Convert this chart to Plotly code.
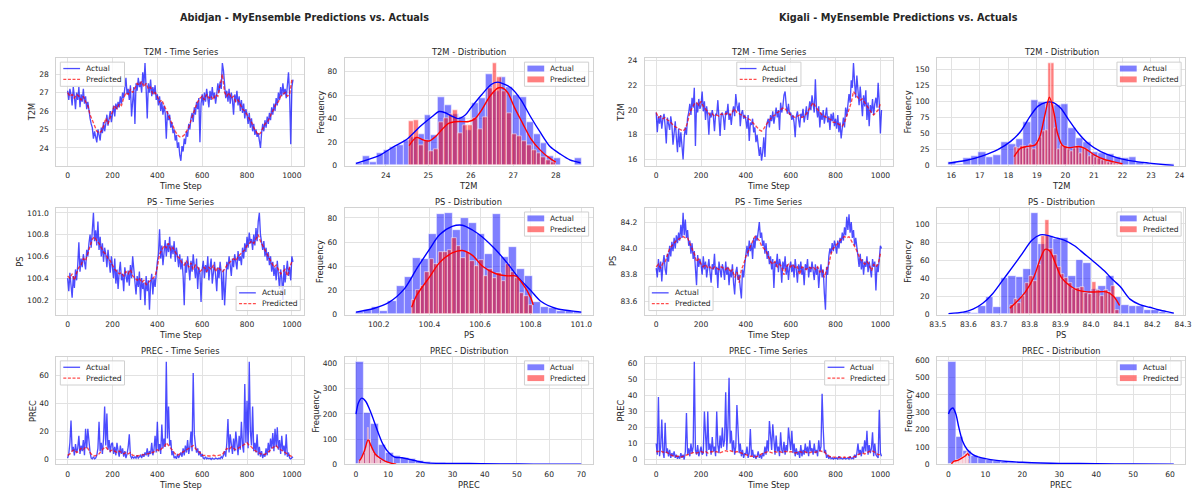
import numpy as np
import plotly.graph_objects as go

# ====================== DATA ======================
ACT_STEP = 5    # actual series read every 5 time steps
PRED_STEP = 10  # predicted series read every 10 time steps

# ---------- Abidjan ----------
abj_t2m_act = [
    27.1, 26.6, 27.2, 26.9, 26.3, 27.3, 26.8, 26.1, 27.0, 26.6, 27.3, 26.2, 26.9, 26.5, 27.2, 26.4, 26.8, 26.1, 26.5, 25.9,
    25.6, 25.3, 25.1, 24.5, 24.9, 24.6, 24.3, 25.0, 24.7, 24.4, 25.1, 24.8, 25.4, 24.9, 25.3, 25.8, 25.2, 25.6, 26.0, 25.4,
    25.9, 26.3, 25.7, 26.4, 26.1, 26.5, 26.2, 26.8, 26.4, 27.0, 26.7, 27.3, 27.8, 26.9, 27.2, 26.6, 27.4, 25.7, 26.9, 27.3,
    25.3, 27.5, 27.1, 27.8, 27.3, 27.6, 27.0, 28.1, 27.4, 28.6, 27.2, 25.6, 27.5, 27.0, 27.7, 26.8, 27.3, 26.9, 27.4, 26.6,
    26.9, 26.3, 26.8, 26.0, 26.5, 25.8, 26.3, 25.9, 24.5, 26.0, 25.5, 25.8, 25.1, 25.4, 24.8, 25.0, 24.4, 24.7, 24.0, 24.3,
    23.6, 23.3, 24.1, 23.8, 24.5, 24.2, 24.9, 24.6, 25.3, 25.0, 25.6, 25.9, 25.4, 26.2, 25.8, 26.5, 26.1, 26.7, 24.3, 26.4,
    26.9, 26.3, 27.0, 26.5, 27.2, 26.8, 26.2, 27.1, 26.6, 27.3, 26.7, 27.0, 26.4, 26.9, 27.5, 27.0, 27.6, 27.2, 28.6, 28.2,
    27.3, 26.7, 27.1, 26.5, 27.2, 26.4, 27.0, 26.6, 25.8, 26.9, 26.5, 27.1, 26.3, 26.8, 26.0, 26.6, 25.9, 26.4, 25.6, 26.1,
    25.8, 25.3, 25.9, 25.1, 25.6, 24.9, 25.3, 24.7, 25.0, 24.6, 24.8, 24.3, 24.0, 24.8, 25.3, 24.9, 25.5, 25.1, 25.7, 25.3,
    25.9, 25.5, 26.2, 25.8, 26.4, 26.0, 26.7, 26.3, 27.0, 26.6, 27.3, 26.8, 27.5, 26.9, 27.2, 26.7, 27.6, 28.1, 26.9, 24.2, 27.3, 27.7]
abj_t2m_pred = [
    27.0, 26.8, 26.9, 26.7, 26.9, 26.8, 26.6, 26.8, 26.5, 26.3,
    25.8, 25.5, 25.1, 24.9, 24.8, 24.9, 25.2, 25.6, 25.3, 25.7,
    26.0, 26.3, 26.1, 26.4, 26.3, 26.7, 27.0, 26.9, 27.2, 27.0,
    27.3, 27.5, 27.4, 27.6, 27.3, 27.5, 27.2, 27.3, 26.9, 27.0,
    26.8, 26.5, 26.6, 26.3, 26.0, 25.8, 25.5, 25.2, 24.9, 24.7,
    24.6, 24.6, 24.7, 24.9, 25.1, 25.5, 25.9, 26.2, 26.5, 26.7,
    26.8, 26.6, 26.9, 26.7, 26.8, 26.6, 26.9, 26.8, 27.4, 28.0,
    27.0, 26.8, 27.0, 26.7, 26.8, 26.5, 26.6, 26.3, 26.1, 26.0,
    25.8, 25.6, 25.4, 25.1, 24.9, 24.7, 24.8, 25.1, 25.3, 25.4,
    25.6, 25.9, 26.1, 26.4, 26.5, 26.8, 26.9, 27.0, 26.8, 26.9, 27.7]

abj_ps_act = [
    100.40, 100.28, 100.45, 100.35, 100.22, 100.42, 100.31, 100.48, 100.38, 100.52, 100.73, 100.46, 100.58, 100.50, 100.62, 100.55, 100.48, 100.66, 100.60, 100.72,
    100.80, 100.68, 100.88, 101.00, 100.74, 100.84, 100.70, 100.92, 100.66, 100.78, 100.60, 100.72, 100.55, 100.68, 100.62, 100.50, 100.66, 100.57, 100.45, 100.60,
    100.52, 100.40, 100.58, 100.35, 100.48, 100.30, 100.46, 100.55, 100.38, 100.44, 100.28, 100.50, 100.42, 100.36, 100.47, 100.33, 100.52, 100.40, 100.60, 100.45,
    100.38, 100.25, 100.42, 100.32, 100.46, 100.20, 100.40, 100.30, 100.36, 100.15, 100.42, 100.28, 100.38, 100.11, 100.35, 100.44, 100.25, 100.40, 100.32, 100.48,
    100.55, 100.62, 100.85, 100.58, 100.70, 100.52, 100.66, 100.75, 100.60, 100.72, 100.64, 100.78, 100.58, 100.70, 100.62, 100.74, 100.55, 100.68, 100.60, 100.50,
    100.62, 100.48, 100.58, 100.42, 100.15, 100.55, 100.45, 100.60, 100.50, 100.38, 100.56, 100.46, 100.62, 100.52, 100.40, 100.58, 100.30, 100.50, 100.44, 100.18,
    100.48, 100.56, 100.40, 100.52, 100.45, 100.60, 100.38, 100.50, 100.58, 100.35, 100.48, 100.55, 100.42, 100.28, 100.50, 100.40, 100.55, 100.45, 100.20, 100.48,
    100.15, 100.45, 100.55, 100.48, 100.60, 100.52, 100.42, 100.58, 100.50, 100.62, 100.55, 100.48, 100.65, 100.56, 100.60, 100.52, 100.68, 100.58, 100.72, 100.64,
    100.78, 100.68, 100.82, 100.72, 100.76, 100.66, 100.80, 100.70, 100.86, 100.74, 100.92, 101.00, 100.80, 100.70, 100.66, 100.74, 100.60, 100.68, 100.56, 100.64,
    100.52, 100.60, 100.46, 100.55, 100.42, 100.50, 100.38, 100.56, 100.45, 100.30, 100.48, 100.40, 100.20, 100.52, 100.36, 100.46, 100.56, 100.42, 100.50, 100.38, 100.60, 100.55]
abj_ps_pred = [
    100.42, 100.40, 100.44, 100.38, 100.45, 100.50, 100.52, 100.58, 100.56, 100.62,
    100.70, 100.76, 100.78, 100.74, 100.72, 100.68, 100.64, 100.62, 100.58, 100.56,
    100.52, 100.48, 100.46, 100.44, 100.45, 100.42, 100.46, 100.44, 100.48, 100.42,
    100.40, 100.38, 100.40, 100.36, 100.38, 100.34, 100.36, 100.38, 100.40, 100.42,
    100.50, 100.62, 100.66, 100.70, 100.68, 100.72, 100.66, 100.68, 100.64, 100.60,
    100.58, 100.54, 100.52, 100.56, 100.50, 100.54, 100.48, 100.52, 100.50, 100.46,
    100.48, 100.50, 100.46, 100.50, 100.48, 100.52, 100.46, 100.50, 100.48, 100.46,
    100.48, 100.52, 100.54, 100.56, 100.58, 100.56, 100.60, 100.62, 100.64, 100.66,
    100.70, 100.72, 100.74, 100.72, 100.76, 100.80, 100.74, 100.70, 100.66, 100.62,
    100.58, 100.54, 100.50, 100.52, 100.48, 100.44, 100.46, 100.48, 100.42, 100.50, 100.55]

abj_prec_act = [
    1, 4, 12, 28, 6, 9, 3, 11, 5, 8, 17, 4, 10, 6, 14, 3, 22, 8, 22, 12,
    5, 1, 0.5, 2, 0.5, 1, 3, 8, 27, 6, 12, 4, 15, 38, 10, 33, 7, 14, 5, 11,
    12, 4, 9, 3, 12, 6, 2, 10, 4, 8, 2, 6, 1, 4, 9, 18, 3, 1, 2, 1,
    2, 1, 3, 1, 2, 3, 1, 4, 2, 5, 3, 8, 2, 6, 4, 12, 3, 7, 17, 5,
    27, 6, 11, 4, 25, 8, 15, 9, 70, 15, 38, 10, 14, 3, 6, 1, 2, 0.5, 4, 1,
    3, 5, 2, 8, 3, 10, 5, 14, 4, 9, 20, 6, 62, 18, 10, 5, 8, 3, 6, 2,
    4, 1, 0.5, 2, 0.5, 1, 0.5, 1, 0.0, 1, 0.5, 0.3, 1, 0.5, 0.3, 1, 0.5, 2, 1, 3,
    6, 2, 12, 29, 5, 18, 8, 4, 15, 6, 20, 9, 3, 17, 7, 27, 10, 5, 54, 12,
    42, 8, 70, 20, 10, 38, 6, 12, 5, 18, 3, 9, 2, 6, 1, 4, 2, 8, 3, 12,
    5, 15, 8, 19, 6, 22, 9, 23, 7, 14, 4, 17, 6, 10, 3, 18, 2, 5, 1, 0.5, 1, 2]
abj_prec_pred = [
    3, 4, 6, 7, 5, 6, 8, 7, 9, 8,
    5, 3, 2.5, 3, 4, 6, 8, 9, 7, 6,
    7, 6, 5, 6, 5, 4, 5, 4, 5, 3,
    3, 2.5, 3, 3, 3.5, 4, 4, 5, 5, 6,
    7, 6, 8, 9, 12, 10, 8, 6, 4, 3,
    4, 5, 6, 7, 8, 9, 10, 8, 6, 5,
    3, 3, 2.5, 2.5, 2.5, 3, 2.5, 3, 3, 3.5,
    6, 8, 7, 9, 8, 7, 8, 9, 10, 11,
    12, 10, 9, 7, 6, 5, 4, 4, 3.5, 5,
    6, 8, 9, 10, 8, 7, 6, 5, 4, 3, 2]

# ---------- Kigali ----------
kgl_t2m_act = [
    19.8, 18.2, 19.5, 18.9, 19.6, 18.5, 19.3, 19.7, 18.7, 17.3, 19.4, 19.0, 18.4, 19.5, 18.8, 17.2, 18.6, 19.1, 17.8, 16.6,
    18.5, 17.0, 18.2, 16.8, 16.0, 17.8, 18.6, 18.0, 19.4, 19.8, 20.5, 19.6, 21.0, 20.2, 21.8, 17.1, 20.6, 19.8, 20.9, 20.1,
    20.4, 21.5, 19.9, 20.7, 19.2, 20.3, 19.6, 18.0, 19.8, 19.4, 20.0, 19.5, 18.3, 19.7, 19.6, 20.8, 19.3, 17.9, 19.6, 19.8,
    19.4, 18.4, 19.9, 19.6, 20.5, 19.2, 19.7, 18.8, 19.8, 20.3, 19.5, 21.3, 20.4, 19.9, 20.6, 18.7, 19.7, 20.0, 19.3, 19.6,
    19.2, 18.5, 19.6, 17.5, 19.0, 18.8, 19.3, 18.2, 18.6, 17.4, 18.0, 17.2, 16.3, 17.0, 15.9, 16.6, 17.8, 16.2, 18.4, 19.0,
    19.3, 18.6, 19.6, 19.1, 19.9, 18.9, 19.5, 20.2, 19.4, 20.0, 18.4, 20.6, 19.8, 20.3, 21.2, 21.5, 20.4, 19.7, 20.5, 19.6,
    19.8, 19.2, 19.6, 19.0, 17.8, 19.5, 19.9, 19.3, 18.6, 19.7, 19.4, 20.1, 19.0, 19.6, 20.3, 19.2, 19.8, 20.7, 20.0, 21.2,
    20.5, 19.8, 22.5, 20.1, 19.4, 20.3, 18.6, 19.8, 19.2, 20.0, 18.9, 19.6, 20.2, 19.0, 19.5, 18.4, 19.7, 19.1, 19.8, 18.7,
    19.3, 18.5, 19.6, 18.2, 19.0, 17.7, 18.8, 19.4, 18.6, 20.2, 19.5, 20.8, 21.3, 20.6, 22.4, 21.8, 23.8, 22.2, 21.0, 22.8,
    21.5, 20.4, 21.9, 20.7, 19.5, 21.2, 20.3, 21.6, 19.2, 20.6, 18.7, 20.4, 19.8, 20.9, 19.6, 20.5, 21.0, 20.2, 22.2, 20.6, 18.1, 20.0]
kgl_t2m_pred = [
    19.8, 19.4, 19.5, 19.3, 19.4, 19.2, 19.1, 18.9, 18.7, 18.6,
    18.5, 18.4, 18.3, 18.5, 19.0, 19.8, 20.2, 20.5, 20.6, 20.4,
    20.7, 20.3, 20.1, 19.8, 19.6, 19.7, 19.5, 19.6, 19.5, 19.7,
    19.6, 19.7, 19.8, 19.6, 19.9, 20.1, 19.8, 19.7, 19.6, 19.5,
    19.4, 19.3, 19.2, 19.0, 18.8, 18.6, 18.4, 18.3, 18.5, 18.8,
    19.1, 19.3, 19.5, 19.6, 19.8, 19.9, 20.1, 20.2, 20.0, 19.8,
    19.6, 19.5, 19.4, 19.5, 19.6, 19.4, 19.5, 19.7, 20.0, 20.4,
    20.6, 20.3, 20.0, 19.8, 19.6, 19.5, 19.4, 19.3, 19.2, 19.0,
    19.0, 18.9, 18.8, 18.7, 19.0, 19.5, 20.0, 20.6, 21.5, 21.2,
    21.0, 20.8, 20.9, 20.6, 20.3, 20.0, 19.8, 19.6, 19.8, 20.0, 20.5]

kgl_ps_act = [
    83.85, 83.78, 83.92, 83.82, 83.90, 83.75, 83.88, 83.95, 83.84, 83.80, 83.96, 83.90, 84.02, 83.94, 84.05, 83.98, 84.08, 84.00, 84.10, 84.04,
    84.12, 84.06, 84.18, 84.08, 84.27, 84.10, 84.22, 84.08, 84.14, 84.02, 84.06, 83.96, 84.04, 83.92, 83.98, 83.88, 83.72, 83.95, 83.86, 83.92,
    83.88, 83.80, 83.94, 83.84, 83.90, 83.78, 83.86, 83.92, 83.82, 83.74, 83.88, 83.84, 83.96, 83.80, 83.86, 83.70, 83.90, 83.82, 83.78, 83.88,
    83.84, 83.76, 83.90, 83.80, 83.86, 83.72, 83.84, 83.78, 83.88, 83.74, 83.65, 83.82, 83.86, 83.76, 83.80, 83.70, 83.62, 83.84, 83.78, 83.88,
    83.96, 84.02, 83.94, 84.06, 83.98, 84.04, 83.92, 84.08, 84.00, 84.10, 84.06, 84.14, 84.20, 84.08, 84.12, 84.02, 84.06, 83.96, 84.04, 83.92,
    83.98, 83.88, 83.94, 83.84, 83.92, 83.70, 83.90, 83.86, 83.96, 83.82, 83.92, 83.88, 83.74, 83.90, 83.84, 83.94, 83.80, 83.88, 83.76, 83.86,
    83.90, 83.82, 83.88, 83.78, 83.92, 83.84, 83.74, 83.88, 83.82, 83.90, 83.80, 83.86, 83.72, 83.88, 83.84, 83.92, 83.78, 83.86, 83.82, 83.90,
    83.84, 83.76, 83.88, 83.80, 83.86, 83.70, 83.82, 83.88, 83.78, 83.84, 83.66, 83.535, 83.86, 83.80, 83.94, 84.00, 83.96, 84.04, 83.98, 84.06,
    84.02, 83.96, 84.06, 84.00, 84.08, 84.04, 84.12, 84.06, 84.16, 84.10, 84.24, 84.14, 84.26, 84.12, 84.20, 84.08, 84.14, 84.02, 84.08, 83.98,
    83.94, 83.86, 83.96, 83.84, 83.92, 83.80, 83.90, 83.86, 83.94, 83.82, 83.90, 83.84, 83.78, 83.92, 83.86, 83.90, 83.68, 83.88, 83.82, 83.92, 84.02, 84.00]
kgl_ps_pred = [
    83.86, 83.88, 83.85, 83.89, 83.90, 83.96, 84.00, 84.02, 84.04, 84.06,
    84.07, 84.08, 84.09, 84.08, 84.08, 84.04, 84.00, 83.96, 83.90, 83.92,
    83.88, 83.86, 83.88, 83.85, 83.86, 83.84, 83.86, 83.85, 83.84, 83.86,
    83.85, 83.84, 83.86, 83.82, 83.84, 83.78, 83.82, 83.74, 83.84, 83.88,
    83.94, 83.98, 84.02, 84.06, 84.09, 84.08, 84.06, 84.02, 84.00, 83.98,
    83.94, 83.90, 83.88, 83.90, 83.86, 83.88, 83.86, 83.80, 83.86, 83.88,
    83.86, 83.88, 83.85, 83.86, 83.80, 83.86, 83.85, 83.84, 83.86, 83.85,
    83.86, 83.84, 83.86, 83.82, 83.84, 83.78, 83.84, 83.88, 83.96, 84.00,
    84.02, 84.04, 84.06, 84.08, 84.09, 84.08, 84.09, 84.06, 84.04, 84.00,
    83.96, 83.92, 83.90, 83.88, 83.90, 83.88, 83.83, 83.88, 83.86, 83.88, 83.96]

kgl_prec_act = [
    10, 3, 39, 2, 8, 25, 5, 1, 23, 4, 7, 2, 6, 1, 4, 2, 5, 1, 3, 0.5,
    2, 0.5, 4, 1, 3, 0.0, 5, 29, 3, 7, 2, 10, 4, 8, 61, 6, 3, 9, 2, 5,
    8, 3, 4, 30, 12, 2, 30, 6, 10, 3, 14, 5, 8, 2, 30, 9, 4, 15, 7, 20,
    8, 12, 42, 6, 20, 51, 10, 18, 5, 12, 3, 8, 34, 15, 4, 10, 2, 6, 1, 4,
    3, 8, 1, 4, 19, 2, 6, 1, 3, 0.5, 2, 5, 1, 3, 0.5, 4, 2, 8, 3, 12,
    5, 24, 14, 6, 22, 10, 3, 15, 5, 8, 2, 17, 6, 4, 11, 3, 9, 5, 20, 12,
    6, 18, 4, 10, 2, 7, 3, 5, 1, 9, 2, 6, 3, 10, 4, 8, 2, 12, 5, 7,
    3, 10, 4, 6, 2, 12, 5, 8, 41, 19, 4, 6, 1, 3, 0.5, 2, 0.5, 1, 0.3, 1,
    0.5, 1, 0.3, 2, 0.5, 1, 0.3, 0.5, 1, 0.3, 0.5, 1, 0.3, 2, 0.5, 1, 0.3, 3, 1, 4,
    10, 3, 6, 2, 8, 4, 12, 5, 18, 3, 9, 4, 7, 17, 2, 10, 3, 2, 1, 31, 4, 2]
kgl_prec_pred = [
    5, 5, 5.5, 4.5, 5, 4, 3, 2.5, 2, 2,
    2, 1.5, 2, 2.5, 3, 3.5, 4, 4.5, 4, 4.5,
    5, 4.5, 5, 4, 4.5, 5, 4.5, 5, 4, 4.5,
    5, 5.5, 5, 5.5, 5, 4.5, 5, 4.5, 4, 3.5,
    3, 2.5, 2, 2, 1.5, 2, 2.5, 3.5, 4, 4.5,
    5, 4.5, 4, 5, 4.5, 5, 4.5, 5, 5, 4.5,
    5, 4.5, 4, 4.5, 5, 4.5, 5, 4.5, 4, 4.5,
    5, 4.5, 5, 5.5, 5, 5, 3, 2, 1.5, 1.5,
    1.5, 1, 1.5, 1, 1.5, 1, 1.5, 1.2, 1.5, 2,
    3, 3.5, 4, 3.5, 4.5, 5, 5.5, 5, 4, 3, 3]

# ---------- histogram counts (bin range lo, hi) ----------
abj_t2m_hist_act = [2, 8, 3, 11, 13, 16, 17, 22, 24, 27, 43, 26, 58, 51, 44, 41, 30, 53, 57, 78,
                    63, 75, 67, 60, 58, 37, 27, 19, 8, 6, 0, 0, 6]
abj_t2m_hist_act_rng = [23.3, 28.6]
abj_t2m_hist_pred = [38, 39, 17, 22, 12, 14, 37, 40, 44, 47, 28, 34, 34, 40, 31, 41, 66, 87, 75, 63,
                     45, 27, 25, 21, 17, 13, 11, 7, 5, 3]
abj_t2m_hist_pred_rng = [24.55, 28.0]
abj_ps_hist_act = [2, 4, 6, 3, 11, 24, 31, 47, 46, 67, 83, 84, 70, 80, 76, 67, 50, 83, 48, 56,
                   38, 32, 10, 6, 5, 3, 3, 2]
abj_ps_hist_act_rng = [100.11, 101.0]
abj_ps_hist_pred = [12, 20, 24, 35, 46, 42, 52, 52, 53, 63, 57, 47, 52, 44, 40, 45, 32, 38, 30, 34,
                    28, 42, 35, 30, 18, 15, 8]
abj_ps_hist_pred_rng = [100.33, 100.81]
abj_prec_hist_act = [405, 205, 160, 78, 45, 32, 25, 20, 12, 8, 5, 4, 3, 2, 2, 1, 1, 1, 1, 1,
                     0, 1, 0, 0, 0, 0, 1, 0, 0, 2]
abj_prec_hist_act_rng = [0.0, 70.0]
abj_prec_hist_pred = [12, 20, 28, 35, 45, 62, 80, 145, 95, 70, 55, 48, 40, 35, 30, 25, 20, 16, 13, 10,
                      8, 7, 5, 4, 3, 3, 2, 2, 1, 1]
abj_prec_hist_pred_rng = [1.0, 12.5]

kgl_t2m_hist_act = [5, 3, 12, 15, 21, 13, 17, 36, 33, 41, 68, 103, 100, 97, 95, 96, 58, 43, 37, 21,
                    20, 18, 13, 12, 13, 5, 3, 3, 2, 2]
kgl_t2m_hist_act_rng = [15.9, 23.8]
kgl_t2m_hist_pred = [29, 28, 30, 31, 27, 33, 25, 36, 45, 54, 55, 160, 160, 59, 25, 32, 31, 26, 23, 27,
                     30, 20, 28, 26, 15, 18, 13, 11, 9, 8, 6, 5, 4, 3, 2]
kgl_t2m_hist_pred_rng = [18.2, 22.0]
kgl_ps_hist_act = [1, 2, 3, 2, 9, 19, 8, 40, 43, 41, 50, 112, 78, 87, 83, 85, 42, 60, 57, 28,
                   31, 42, 19, 10, 9, 9, 5, 5, 3, 2]
kgl_ps_hist_act_rng = [83.535, 84.27]
kgl_ps_hist_pred = [10, 17, 13, 20, 35, 42, 37, 55, 87, 104, 72, 66, 52, 45, 40, 35, 28, 29, 30, 24,
                    23, 36, 27, 20, 27, 25, 31, 5]
kgl_ps_hist_pred_rng = [83.735, 84.093]
kgl_prec_hist_act = [590, 160, 75, 48, 38, 25, 18, 12, 9, 8, 6, 5, 4, 3, 3, 2, 2, 1, 1, 1,
                     1, 1, 0, 0, 0, 0, 0, 0, 0, 2]
kgl_prec_hist_act_rng = [0.0, 61.0]
kgl_prec_hist_pred = [5, 8, 10, 14, 16, 18, 20, 22, 21, 24, 25, 26, 28, 30, 32, 33, 35, 38, 40, 42,
                      45, 48, 52, 55, 60, 66, 72, 75, 60, 30]
kgl_prec_hist_pred_rng = [0.8, 5.6]

# ---------- KDE curves (x, count-scaled density) ----------
abj_t2m_kde_act_x = [23.3, 23.87, 24.18, 24.48, 24.8, 25.1, 25.25, 25.4, 25.56, 25.7, 25.87, 26.0, 26.25,
                     26.48, 26.64, 26.8, 26.95, 27.18, 27.4, 27.64, 27.87, 28.1, 28.33, 28.58]
abj_t2m_kde_act_y = [2, 9, 16, 22, 33, 42, 46, 45, 42, 40, 43, 49, 60, 69, 71, 69, 66, 56, 42, 28, 16, 10, 5, 2.5]
abj_t2m_kde_pred_x = [24.55, 24.72, 24.87, 25.02, 25.18, 25.33, 25.48, 25.72, 25.95, 26.1, 26.25, 26.45,
                      26.64, 26.75, 26.87, 27.02, 27.22, 27.41, 27.64, 27.83, 28.0]
abj_t2m_kde_pred_y = [17, 24, 22, 21, 25, 31, 36, 37.5, 37.5, 40, 47, 59, 66, 66, 62, 50, 36, 23, 13, 7, 3]
abj_ps_kde_act_x = [100.11, 100.18, 100.24, 100.3, 100.35, 100.4, 100.44, 100.49, 100.53, 100.57, 100.61,
                    100.66, 100.71, 100.75, 100.8, 100.84, 100.9, 100.96, 101.0]
abj_ps_kde_act_y = [2, 5, 10, 21, 38, 54, 66, 73, 74, 70, 64, 54, 42, 31, 20, 11, 5, 3, 2]
abj_ps_kde_pred_x = [100.33, 100.35, 100.4, 100.44, 100.49, 100.53, 100.57, 100.61, 100.66, 100.71,
                     100.74, 100.77, 100.8, 100.81]
abj_ps_kde_pred_y = [6, 16, 31, 43, 51, 53, 49, 40, 34, 32, 32, 25, 14, 8]
abj_prec_kde_act_x = [0.0, 0.8, 1.8, 3.0, 4.3, 5.5, 6.7, 8.4, 10.2, 12, 14.3, 16.6, 19, 21.3, 24.9, 30.7,
                      38.9, 50.6, 60, 70]
abj_prec_kde_act_y = [199, 245, 262, 250, 215, 175, 132, 79, 46, 29, 26, 20, 13, 7, 4, 4, 2.6, 1.3, 1, 1]
abj_prec_kde_pred_x = [1.0, 1.4, 2.6, 3.75, 4.7, 5.9, 7.3, 9.0, 10.8, 12.5]
abj_prec_kde_pred_y = [15, 20, 53, 97, 73, 42, 26, 13, 5, 1]

kgl_t2m_kde_act_x = [15.9, 16.5, 17.07, 17.63, 18.08, 18.42, 18.76, 19.04, 19.32, 19.55, 19.83, 20.11,
                     20.45, 20.79, 21.24, 21.8, 22.37, 22.93, 23.5, 23.8]
kgl_t2m_kde_act_y = [4, 8, 15, 25, 38, 53, 77, 93, 99, 99, 90, 72, 51, 35, 22, 12.5, 7, 4, 1.5, 0.5]
kgl_t2m_kde_pred_x = [18.2, 18.42, 18.65, 18.93, 19.1, 19.27, 19.44, 19.6, 19.72, 19.89, 20.11, 20.45,
                      20.68, 21.01, 21.35, 21.69, 22.0]
kgl_t2m_kde_pred_y = [14, 27, 30, 32, 45, 77, 107, 82, 51, 32, 28, 30, 27, 17, 10, 6, 3]
kgl_ps_kde_act_x = [83.535, 83.583, 83.615, 83.647, 83.679, 83.711, 83.743, 83.775, 83.807, 83.834, 83.85,
                    83.882, 83.914, 83.946, 83.978, 84.01, 84.042, 84.074, 84.095, 84.127, 84.159, 84.191,
                    84.223, 84.255, 84.27]
kgl_ps_kde_act_y = [1, 2.6, 6, 12.5, 23, 37.5, 52, 67, 82, 88, 88, 85, 82, 76, 67, 58, 48.5, 37.5, 31, 17,
                    11, 8, 5, 2.6, 1.5]
kgl_ps_kde_pred_x = [83.735, 83.76, 83.786, 83.813, 83.834, 83.85, 83.866, 83.882, 83.903, 83.93, 83.956,
                     83.988, 84.02, 84.05, 84.074, 84.093]
kgl_ps_kde_pred_y = [7, 15, 25, 41, 61, 72, 70, 58, 41, 32, 27, 25, 25, 25, 20, 10]
kgl_prec_kde_act_x = [0.0, 0.5, 1.2, 2.0, 2.8, 3.8, 5.0, 6.5, 8, 10, 13, 16, 20, 25, 30, 40, 50, 61]
kgl_prec_kde_act_y = [290, 315, 325, 290, 213, 135, 87, 58, 43, 33, 23, 17, 12, 8, 6, 4, 2, 1]
kgl_prec_kde_pred_x = [0.8, 1.5, 2.5, 3.5, 4.5, 5.2, 5.6]
kgl_prec_kde_pred_y = [4, 19, 23, 35, 48, 62, 50]

# ---------- tick values ----------
ts_xticks = [0, 200, 400, 600, 800, 1000]
abj_t2m_ts_yticks = [24, 25, 26, 27, 28]
abj_t2m_hist_xticks = [24, 25, 26, 27, 28]
abj_t2m_hist_yticks = [0, 20, 40, 60, 80]
abj_ps_ts_yticks = [100.2, 100.4, 100.6, 100.8, 101.0]
abj_ps_hist_xticks = [100.2, 100.4, 100.6, 100.8, 101.0]
abj_ps_hist_yticks = [0, 20, 40, 60, 80]
abj_prec_ts_yticks = [0, 20, 40, 60]
abj_prec_hist_xticks = [0, 10, 20, 30, 40, 50, 60, 70]
abj_prec_hist_yticks = [0, 100, 200, 300, 400]
kgl_t2m_ts_yticks = [16, 18, 20, 22, 24]
kgl_t2m_hist_xticks = [16, 17, 18, 19, 20, 21, 22, 23, 24]
kgl_t2m_hist_yticks = [0, 25, 50, 75, 100, 125, 150]
kgl_ps_ts_yticks = [83.6, 83.8, 84.0, 84.2]
kgl_ps_hist_xticks = [83.5, 83.6, 83.7, 83.8, 83.9, 84.0, 84.1, 84.2, 84.3]
kgl_ps_hist_yticks = [0, 20, 40, 60, 80, 100]
kgl_prec_ts_yticks = [0, 10, 20, 30, 40, 50, 60]
kgl_prec_hist_xticks = [0, 10, 20, 30, 40, 50, 60]
kgl_prec_hist_yticks = [0, 100, 200, 300, 400, 500, 600]

suptitles = ["Abidjan - MyEnsemble Predictions vs. Actuals", "Kigali - MyEnsemble Predictions vs. Actuals"]

# ====================== LAYOUT / STYLE ======================
W, H = 1198, 496
COLS = [(49, 300), (341, 592), (645, 896), (941, 1192)]
ROWS = [(57, 166), (209, 317), (360, 469)]
FONT = "DejaVu Sans"
TXT = "#262626"
GRID = "#e2e2e2"
SPINE = "#d2d2d2"
BLUE_L = "rgba(0,0,255,0.7)"
RED_L = "rgba(255,0,0,0.7)"
BLUE_F = "rgba(0,0,255,0.5)"
RED_F = "rgba(255,0,0,0.5)"
TICK_FS = 7.6
LAB_FS = 8.3


def px(p):
    return p / W


def py(p):
    return 1 - p / H


def pad(lo, hi, f=0.05):
    d = (hi - lo) * f
    return [lo - d, hi + d]


def fmt(v, dec):
    return f"{v:.{dec}f}"


def text_w(s, size):
    return sum((0.318 if ch == "." else 0.636) for ch in s) * size


fig = go.Figure()
shapes, annots, axes = [], [], {}


def ann(text, x, y, size, **kw):
    d = dict(text=text, x=px(x), y=py(y), xref="paper", yref="paper", showarrow=False,
             font=dict(family=FONT, size=size, color=TXT), xanchor="center", yanchor="middle")
    d.update(kw)
    annots.append(d)


def add_axes(idx, r, c, xr, yr, xt, yt, xdec, ydec, xlabel, ylabel, title):
    s = "" if idx == 1 else str(idx)
    l, rr = COLS[c]
    t, b = ROWS[r]
    common = dict(showgrid=True, gridcolor=GRID, gridwidth=1, zeroline=False, showline=True, mirror=True,
                  linecolor=SPINE, linewidth=1, ticks="", fixedrange=True, ticklabeloverflow="allow",
                  tickfont=dict(family=FONT, size=TICK_FS, color=TXT))
    axes["xaxis" + s] = dict(domain=[px(l), px(rr)], anchor="y" + s, range=xr, tickvals=xt,
                             ticktext=[fmt(v, xdec) for v in xt], ticklabelstandoff=2, **common)
    axes["yaxis" + s] = dict(domain=[py(b), py(t)], anchor="x" + s, range=yr, tickvals=yt,
                             ticktext=[fmt(v, ydec) for v in yt], ticklabelstandoff=5, **common)
    ann(title, (l + rr) / 2, t - 6.5, LAB_FS)
    ann(xlabel, (l + rr) / 2, b + 20.5, LAB_FS)
    wmax = max(text_w(fmt(v, ydec), TICK_FS) for v in yt)
    ann(ylabel, l - (7 + wmax + 3.5 + 4.2), (t + b) / 2, LAB_FS, textangle=-90)


def add_legend(r, c, pos, items):
    l, rr = COLS[c]
    t, b = ROWS[r]
    bw, bh = 65, 24.5
    if pos == "ul":
        bl, bt = l + 4, t + 4
    elif pos == "ur":
        bl, bt = rr - 4 - bw, t + 4
    elif pos == "uc":
        bl, bt = (l + rr) / 2 - bw / 2, t + 4
    elif pos == "lr":
        bl, bt = rr - 4 - bw, b - 4 - bh
    else:
        bl, bt = l + 4, b - 4 - bh
    shapes.append(dict(type="rect", xref="paper", yref="paper", x0=px(bl), x1=px(bl + bw),
                       y0=py(bt + bh), y1=py(bt), fillcolor="rgba(255,255,255,0.8)",
                       line=dict(color="#d0d0d0", width=1), layer="above"))
    for i, (label, kind, color) in enumerate(items):
        cy = bt + 6.5 + 11 * i
        if kind == "patch":
            shapes.append(dict(type="rect", xref="paper", yref="paper", x0=px(bl + 3), x1=px(bl + 20),
                               y0=py(cy + 3), y1=py(cy - 3), fillcolor=color, line=dict(width=0),
                               layer="above"))
        else:
            shapes.append(dict(type="line", xref="paper", yref="paper", x0=px(bl + 3), x1=px(bl + 20),
                               y0=py(cy), y1=py(cy), layer="above",
                               line=dict(color=color, width=1.3, dash="3px,1.6px" if kind == "dash" else "solid")))
        ann(label, bl + 24, cy, TICK_FS, xanchor="left")


def ts_panel(idx, r, c, act, pred, yticks, ydec, var, legpos):
    s = "" if idx == 1 else str(idx)
    t_act = np.arange(len(act)) * ACT_STEP
    t_pred = np.arange(len(pred)) * PRED_STEP
    fig.add_trace(go.Scatter(x=t_act, y=act, mode="lines", line=dict(color=BLUE_L, width=1.35),
                             xaxis="x" + s, yaxis="y" + s, showlegend=False, hoverinfo="skip"))
    fig.add_trace(go.Scatter(x=t_pred, y=pred, mode="lines",
                             line=dict(color=RED_L, width=1.35, dash="3.5px,1.8px"),
                             xaxis="x" + s, yaxis="y" + s, showlegend=False, hoverinfo="skip"))
    xr = pad(0, float(t_act[-1]))
    yr = pad(min(min(act), min(pred)), max(max(act), max(pred)))
    add_axes(idx, r, c, xr, yr, ts_xticks, yticks, 0, ydec, "Time Step", var, f"{var} - Time Series")
    add_legend(r, c, legpos, [("Actual", "line", BLUE_L), ("Predicted", "dash", RED_L)])


def hist_panel(idx, r, c, ha, ha_rng, hp, hp_rng, ka, kp, xticks, xdec, yticks, var):
    s = "" if idx == 1 else str(idx)
    for counts, rng, fill, kde, lc in ((ha, ha_rng, BLUE_F, ka, "blue"), (hp, hp_rng, RED_F, kp, "red")):
        edges = np.linspace(rng[0], rng[1], len(counts) + 1)
        centers = (edges[:-1] + edges[1:]) / 2
        w = edges[1] - edges[0]
        fig.add_trace(go.Bar(x=centers, y=counts, width=w, xaxis="x" + s, yaxis="y" + s,
                             marker=dict(color=fill, line=dict(color="rgba(255,255,255,0.75)", width=0.7)),
                             showlegend=False, hoverinfo="skip"))
        fig.add_trace(go.Scatter(x=kde[0], y=kde[1], mode="lines",
                                 line=dict(color=lc, width=1.4, shape="spline", smoothing=0.8),
                                 xaxis="x" + s, yaxis="y" + s, showlegend=False, hoverinfo="skip"))
    xr = pad(min(ha_rng[0], hp_rng[0]), max(ha_rng[1], hp_rng[1]))
    yr = [0, max(max(ha), max(hp)) * 1.05]
    add_axes(idx, r, c, xr, yr, xticks, yticks, xdec, 0, var, "Frequency", f"{var} - Distribution")
    add_legend(r, c, "ur", [("Actual", "patch", BLUE_F), ("Predicted", "patch", RED_F)])


# ---- Abidjan ----
ts_panel(1, 0, 0, abj_t2m_act, abj_t2m_pred, abj_t2m_ts_yticks, 0, "T2M", "ul")
hist_panel(2, 0, 1, abj_t2m_hist_act, abj_t2m_hist_act_rng, abj_t2m_hist_pred, abj_t2m_hist_pred_rng,
           (abj_t2m_kde_act_x, abj_t2m_kde_act_y), (abj_t2m_kde_pred_x, abj_t2m_kde_pred_y),
           abj_t2m_hist_xticks, 0, abj_t2m_hist_yticks, "T2M")
ts_panel(3, 1, 0, abj_ps_act, abj_ps_pred, abj_ps_ts_yticks, 1, "PS", "lr")
hist_panel(4, 1, 1, abj_ps_hist_act, abj_ps_hist_act_rng, abj_ps_hist_pred, abj_ps_hist_pred_rng,
           (abj_ps_kde_act_x, abj_ps_kde_act_y), (abj_ps_kde_pred_x, abj_ps_kde_pred_y),
           abj_ps_hist_xticks, 1, abj_ps_hist_yticks, "PS")
ts_panel(5, 2, 0, abj_prec_act, abj_prec_pred, abj_prec_ts_yticks, 0, "PREC", "ul")
hist_panel(6, 2, 1, abj_prec_hist_act, abj_prec_hist_act_rng, abj_prec_hist_pred, abj_prec_hist_pred_rng,
           (abj_prec_kde_act_x, abj_prec_kde_act_y), (abj_prec_kde_pred_x, abj_prec_kde_pred_y),
           abj_prec_hist_xticks, 0, abj_prec_hist_yticks, "PREC")
# ---- Kigali ----
ts_panel(7, 0, 2, kgl_t2m_act, kgl_t2m_pred, kgl_t2m_ts_yticks, 0, "T2M", "uc")
hist_panel(8, 0, 3, kgl_t2m_hist_act, kgl_t2m_hist_act_rng, kgl_t2m_hist_pred, kgl_t2m_hist_pred_rng,
           (kgl_t2m_kde_act_x, kgl_t2m_kde_act_y), (kgl_t2m_kde_pred_x, kgl_t2m_kde_pred_y),
           kgl_t2m_hist_xticks, 0, kgl_t2m_hist_yticks, "T2M")
ts_panel(9, 1, 2, kgl_ps_act, kgl_ps_pred, kgl_ps_ts_yticks, 1, "PS", "ll")
hist_panel(10, 1, 3, kgl_ps_hist_act, kgl_ps_hist_act_rng, kgl_ps_hist_pred, kgl_ps_hist_pred_rng,
           (kgl_ps_kde_act_x, kgl_ps_kde_act_y), (kgl_ps_kde_pred_x, kgl_ps_kde_pred_y),
           kgl_ps_hist_xticks, 1, kgl_ps_hist_yticks, "PS")
ts_panel(11, 2, 2, kgl_prec_act, kgl_prec_pred, kgl_prec_ts_yticks, 0, "PREC", "ur")
hist_panel(12, 2, 3, kgl_prec_hist_act, kgl_prec_hist_act_rng, kgl_prec_hist_pred, kgl_prec_hist_pred_rng,
           (kgl_prec_kde_act_x, kgl_prec_kde_act_y), (kgl_prec_kde_pred_x, kgl_prec_kde_pred_y),
           kgl_prec_hist_xticks, 0, kgl_prec_hist_yticks, "PREC")

ann("<b>" + suptitles[0] + "</b>", 300, 16, 9.7)
ann("<b>" + suptitles[1] + "</b>", 902, 16, 9.7)

fig.update_layout(width=W, height=H, autosize=False, margin=dict(l=0, r=0, t=0, b=0, pad=0),
                  paper_bgcolor="white", plot_bgcolor="white", barmode="overlay", bargap=0,
                  showlegend=False, shapes=shapes, annotations=annots,
                  font=dict(family=FONT, color=TXT), **axes)
fig.write_html("out.html", config={"displayModeBar": False})
